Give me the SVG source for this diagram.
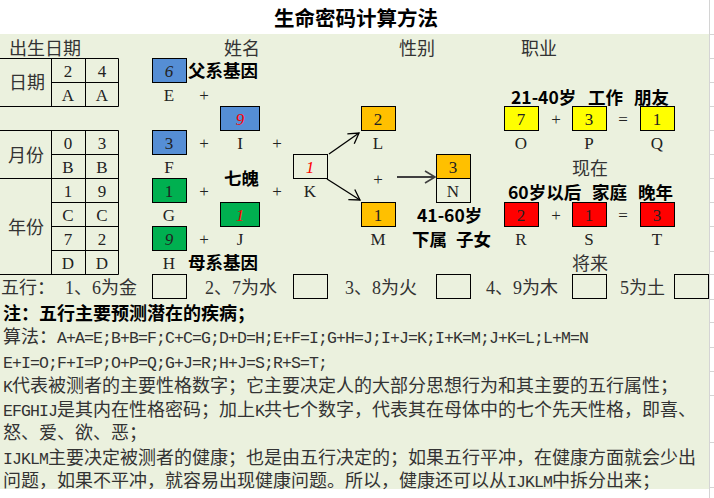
<svg xmlns="http://www.w3.org/2000/svg" width="714" height="498" viewBox="0 0 714 498">
<style>
.t{font-family:"Noto Sans CJK SC",sans-serif;font-size:18px;fill:#333}
.b{font-weight:bold;fill:#000}
.bl{font-size:17.5px}
.lat{font-family:"Liberation Mono",monospace;font-size:16.5px;letter-spacing:-0.9px}
.dg{font-family:"Liberation Serif",serif;font-size:18px}
.c{font-family:"Liberation Serif","Noto Sans CJK SC",serif;font-size:17px;fill:#222;text-anchor:middle;dominant-baseline:central}
.it{font-style:italic}
.red{fill:#FF0000}
.bx{stroke:#000;stroke-width:1}
.blue{fill:#558ED5}.green{fill:#00B050}.orange{fill:#FFC000}.yellow{fill:#FFFF00}.redf{fill:#FF0000}.none{fill:none}
.grid{stroke:#000;stroke-width:1;fill:none}
.arr{stroke:#000;stroke-width:1.3;fill:none}
.tick{stroke:#d4d4d4;stroke-width:1}
</style>
<defs>
<marker id="head" markerUnits="userSpaceOnUse" markerWidth="14" markerHeight="14" viewBox="-12 -7 14 14" refX="0" refY="0" orient="auto">
<path d="M-10,-6 L0,0 L-10,6" fill="none" stroke="#000" stroke-width="1.3"/>
</marker>
<marker id="head2" markerUnits="userSpaceOnUse" markerWidth="14" markerHeight="14" viewBox="-12 -7 14 14" refX="0" refY="0" orient="auto">
<path d="M-10,-6 L0,0 L-10,6" fill="none" stroke="#404040" stroke-width="1.6"/>
</marker>
</defs>
<rect x="0" y="0" width="714" height="498" fill="#fff"/>
<rect x="0" y="34" width="709" height="455" fill="#EBF1DE"/>
<g id="sheet-grid">
<line class="tick" x1="709.5" y1="0" x2="709.5" y2="498"/>
<path class="tick" d="M709,34.5H714M709,58.5H714M709,82.5H714M709,106.5H714M709,130.5H714M709,154.5H714M709,178.5H714M709,202.5H714M709,226.5H714M709,251.5H714M709,274.5H714M709,299.5H714M709,322.5H714M709,347.5H714M709,371.5H714M709,395.5H714M709,442.5H714M709,487.5H714"/>
</g>
<g id="title"><text class="t b" x="356" y="26" text-anchor="middle" style="font-size:20.5px">生命密码计算方法</text></g>
<g id="headers">
<text class="t" x="9" y="55">出生日期</text>
<text class="t" x="224" y="55">姓名</text>
<text class="t" x="399" y="55">性别</text>
<text class="t" x="521" y="55">职业</text>
</g>
<g id="birth-table">
<path class="grid" d="M0,58.5H118.5M51,82.5H118.5M0,106.5H118.5M0,130.5H118.5M51,154.5H118.5M0,178.5H118.5M51,202.5H118.5M51,226.5H118.5M51,250.5H118.5M0,274.5H118.5M51.5,58.5V106.5M85.5,58.5V106.5M118.5,58.5V106.5M51.5,130.5V274.5M85.5,130.5V274.5M118.5,130.5V274.5"/>
<text class="t" x="9" y="89">日期</text>
<text class="t" x="8" y="162">月份</text>
<text class="t" x="8" y="234">年份</text>
<text class="c" x="68" y="71">2</text><text class="c" x="102" y="71">4</text>
<text class="c" x="68" y="95">A</text><text class="c" x="102" y="95">A</text>
<text class="c" x="68" y="143">0</text><text class="c" x="102" y="143">3</text>
<text class="c" x="68" y="167">B</text><text class="c" x="102" y="167">B</text>
<text class="c" x="68" y="191">1</text><text class="c" x="102" y="191">9</text>
<text class="c" x="68" y="215">C</text><text class="c" x="102" y="215">C</text>
<text class="c" x="68" y="239">7</text><text class="c" x="102" y="239">2</text>
<text class="c" x="68" y="263">D</text><text class="c" x="102" y="263">D</text>
</g>
<g id="node-E"><rect class="bx blue" x="152.5" y="58.5" width="34" height="24"/><text class="c it" x="169" y="71">6</text><text class="c" x="169" y="95">E</text></g>
<g id="label-father"><text class="t b bl" x="188" y="77">父系基因</text></g>
<g id="node-I"><rect class="bx blue" x="220.5" y="106.5" width="39" height="24"/><text class="c it red" x="240" y="119">9</text><text class="c" x="240" y="143">I</text></g>
<g id="node-F"><rect class="bx blue" x="152.5" y="130.5" width="34" height="24"/><text class="c" x="169" y="143">3</text><text class="c" x="169" y="167">F</text></g>
<g id="label-qipo"><text class="t b bl" x="224" y="185">七魄</text></g>
<g id="node-G"><rect class="bx green" x="152.5" y="178.5" width="34" height="24"/><text class="c" x="169" y="191">1</text><text class="c" x="169" y="215">G</text></g>
<g id="node-J"><rect class="bx green" x="220.5" y="202.5" width="39" height="24"/><text class="c it red" x="240" y="215">1</text><text class="c" x="240" y="239">J</text></g>
<g id="node-H"><rect class="bx green" x="152.5" y="226.5" width="34" height="24"/><text class="c it" x="169" y="239">9</text><text class="c" x="169" y="263">H</text></g>
<g id="label-mother"><text class="t b bl" x="188" y="269">母系基因</text></g>
<g id="node-K"><rect class="bx none" x="293.5" y="154.5" width="34" height="24"/><text class="c it red" x="310" y="167">1</text><text class="c" x="310" y="191">K</text></g>
<g id="node-L"><rect class="bx orange" x="361.5" y="106.5" width="34" height="24"/><text class="c" x="378" y="119">2</text><text class="c" x="378" y="143">L</text></g>
<g id="node-M"><rect class="bx orange" x="361.5" y="202.5" width="34" height="24"/><text class="c" x="378" y="215">1</text><text class="c" x="378" y="239">M</text></g>
<g id="node-N"><rect class="bx orange" x="436.5" y="154.5" width="34" height="24"/><rect class="bx none" x="436.5" y="178.5" width="34" height="24"/><text class="c" x="453" y="167">3</text><text class="c" x="453" y="191">N</text></g>
<g id="label-41-60">
<text class="t b bl" x="417" y="222">41-60岁</text>
<text class="t b bl" x="412" y="246">下属</text><text class="t b bl" x="456" y="246">子女</text>
</g>
<g id="label-21-40">
<text class="t b bl" x="511" y="104">21-40岁</text>
<text class="t b bl" x="588" y="104">工作</text><text class="t b bl" x="634" y="104">朋友</text>
</g>
<g id="node-O"><rect class="bx yellow" x="504.5" y="106.5" width="34" height="24"/><text class="c" x="521" y="119">7</text><text class="c" x="521" y="143">O</text></g>
<g id="node-P"><rect class="bx yellow" x="572.5" y="106.5" width="34" height="24"/><text class="c" x="589" y="119">3</text><text class="c" x="589" y="143">P</text></g>
<g id="node-Q"><rect class="bx yellow" x="640.5" y="106.5" width="34" height="24"/><text class="c" x="657" y="119">1</text><text class="c" x="657" y="143">Q</text></g>
<g id="label-now"><text class="t" x="572" y="175">现在</text></g>
<g id="label-60">
<text class="t b bl" x="508" y="199">60岁以后</text>
<text class="t b bl" x="592" y="199">家庭</text><text class="t b bl" x="638" y="199">晚年</text>
</g>
<g id="node-R"><rect class="bx redf" x="504.5" y="202.5" width="34" height="24"/><text class="c" x="521" y="215">2</text><text class="c" x="521" y="239">R</text></g>
<g id="node-S"><rect class="bx redf" x="572.5" y="202.5" width="34" height="24"/><text class="c" x="589" y="215">1</text><text class="c" x="589" y="239">S</text></g>
<g id="node-T"><rect class="bx redf" x="640.5" y="202.5" width="34" height="24"/><text class="c" x="657" y="215">3</text><text class="c" x="657" y="239">T</text></g>
<g id="label-future"><text class="t" x="572" y="270">将来</text></g>
<g id="operators">
<text class="c" x="204" y="95">+</text>
<text class="c" x="204" y="143">+</text>
<text class="c" x="277" y="143">+</text>
<text class="c" x="204" y="191">+</text>
<text class="c" x="277" y="191">+</text>
<text class="c" x="204" y="239">+</text>
<text class="c" x="378" y="179">+</text>
<text class="c" x="556" y="119">+</text>
<text class="c" x="623" y="119">=</text>
<text class="c" x="556" y="215">+</text>
<text class="c" x="623" y="215">=</text>
</g>
<g id="connectors">
<line class="arr" x1="329" y1="154" x2="359" y2="133" marker-end="url(#head)"/>
<line class="arr" x1="327" y1="179" x2="360" y2="200" marker-end="url(#head)"/>
<line x1="397" y1="177" x2="435" y2="177" stroke="#404040" stroke-width="2" marker-end="url(#head2)"/>
</g>
<g id="wuxing">
<text class="t" x="1" y="294">五行：</text>
<text class="t" x="65" y="294"><tspan class="dg">1</tspan>、<tspan class="dg">6</tspan>为金</text>
<rect class="bx none" x="152.5" y="274.5" width="34" height="24"/>
<text class="t" x="205" y="294"><tspan class="dg">2</tspan>、<tspan class="dg">7</tspan>为水</text>
<rect class="bx none" x="293.5" y="274.5" width="34" height="24"/>
<text class="t" x="345" y="294"><tspan class="dg">3</tspan>、<tspan class="dg">8</tspan>为火</text>
<rect class="bx none" x="436.5" y="274.5" width="34" height="24"/>
<text class="t" x="486" y="294"><tspan class="dg">4</tspan>、<tspan class="dg">9</tspan>为木</text>
<rect class="bx none" x="572.5" y="274.5" width="34" height="24"/>
<text class="t" x="620" y="294"><tspan class="dg">5</tspan>为土</text>
<rect class="bx none" x="674.5" y="274.5" width="34" height="24"/>
</g>
<g id="notes">
<text class="t b" x="3" y="320">注：五行主要预测潜在的疾病；</text>
<text class="t" x="3" y="343">算法：<tspan class="lat">A+A=E;B+B=F;C+C=G;D+D=H;E+F=I;G+H=J;I+J=K;I+K=M;J+K=L;L+M=N</tspan></text>
<text class="t" x="3" y="368"><tspan class="lat">E+I=O;F+I=P;O+P=Q;G+J=R;H+J=S;R+S=T;</tspan></text>
<text class="t" x="3" y="392"><tspan class="lat">K</tspan>代表被测者的主要性格数字；它主要决定人的大部分思想行为和其主要的五行属性；</text>
<text class="t" x="3" y="416"><tspan class="lat">EFGHIJ</tspan>是其内在性格密码；加上<tspan class="lat">K</tspan>共七个数字，代表其在母体中的七个先天性格，即喜、</text>
<text class="t" x="3" y="439">怒、爱、欲、恶；</text>
<text class="t" x="3" y="464"><tspan class="lat">IJKLM</tspan>主要决定被测者的健康；也是由五行决定的；如果五行平冲，在健康方面就会少出</text>
<text class="t" x="3" y="487">问题，如果不平冲，就容易出现健康问题。所以，健康还可以从<tspan class="lat">IJKLM</tspan>中拆分出来；</text>
</g>
</svg>
